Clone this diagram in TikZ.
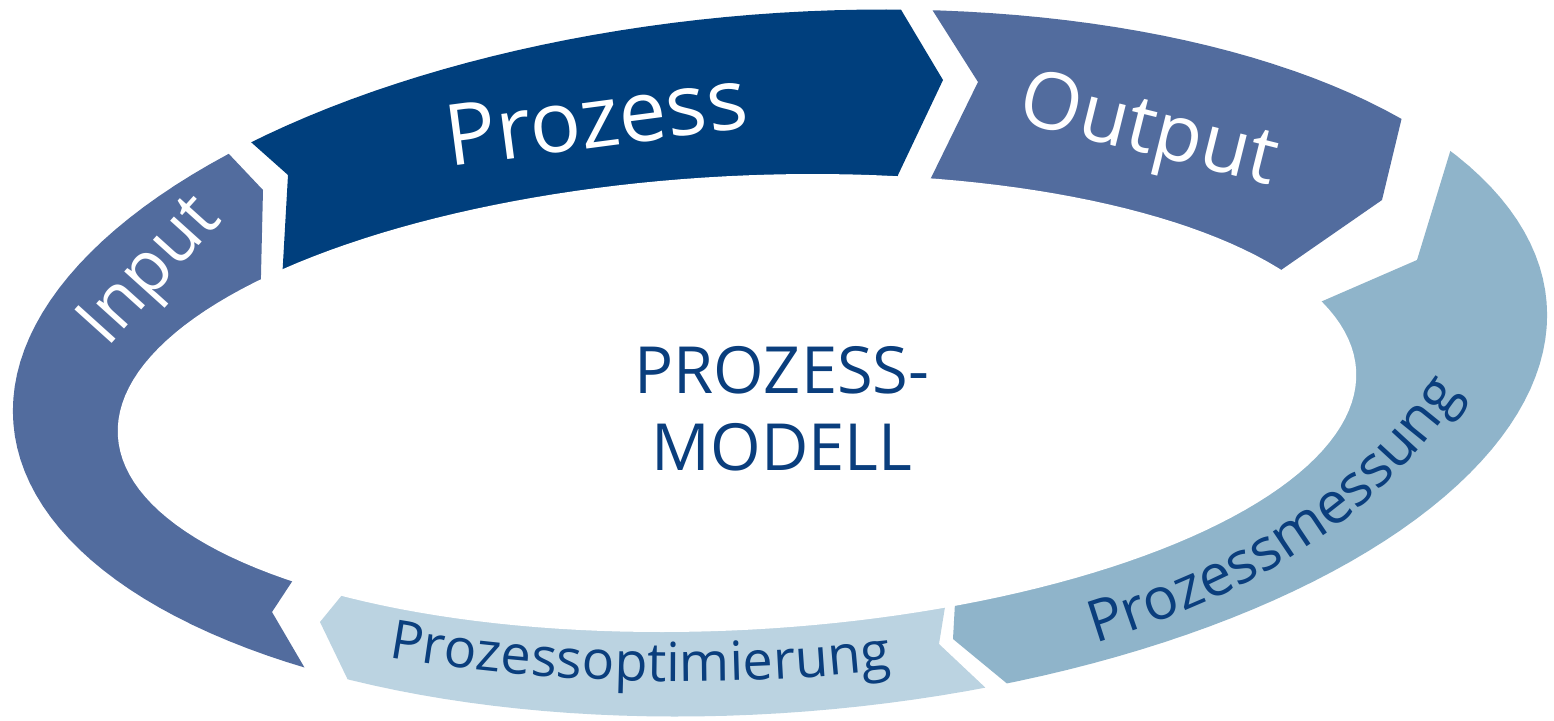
\documentclass[tikz,border=0pt]{standalone}
\usepackage{fontspec}
\setmainfont{Open Sans}
\usetikzlibrary{decorations.text}
\definecolor{cDark}{RGB}{0,63,125}
\definecolor{cMid}{RGB}{82,108,158}
\definecolor{cSteel}{RGB}{143,180,202}
\definecolor{cPale}{RGB}{187,211,225}
\definecolor{cText}{RGB}{10,62,125}
\begin{document}
\begin{tikzpicture}[x=0.5pt,y=-0.5pt,
  outer ell/.style={insert path={plot[domain=0:360, samples=181, variable=\t]
     ({780 + 769*cos(\t)*0.99692 + 349.4*sin(\t)*0.07846},
      {363 - 769*cos(\t)*0.07846 + 349.4*sin(\t)*0.99692}) -- cycle}},
  inner ell/.style={insert path={plot[domain=0:360, samples=181, variable=\t]
     ({737 + 620*cos(\t)*0.99863 + 227*sin(\t)*0.05234},
      {403 - 620*cos(\t)*0.05234 + 227*sin(\t)*0.99863}) -- cycle}},
  seglabel/.style={anchor=base, inner sep=0pt, text=white},
  titlelabel/.style={anchor=base, inner sep=0pt, text=cText, font=\fontsize{32.5}{32.5}\selectfont}]
\fill[white] (0,0) rectangle (1554,720);
\useasboundingbox (0,0) rectangle (1554,720);

% Input
\begin{scope}
\clip (760,390) -- (347,498) -- (297,574) -- (272,612) -- (303,665) -- (365,771)
  -- (-200,900) -- (-300,390) -- (-200,-100) -- (158,79) -- (228,153) -- (263,190)
  -- (261,275) -- (257,445) -- cycle;
\fill[cMid, outer ell];
\end{scope}
% Prozess
\begin{scope}
\clip (760,390) -- (273,439) -- (283,263) -- (288,175) -- (252,143) -- (180,79)
  -- (300,-150) -- (823,-121) -- (903,13) -- (943,80) -- (898,175) -- (853,365) -- cycle;
\fill[cDark, outer ell];
\end{scope}
% Output
\begin{scope}
\clip (760,390) -- (834,376) -- (930,180) -- (978,82) -- (933,11) -- (843,-131)
  -- (1100,-200) -- (1442,-49) -- (1402,117) -- (1382,200) -- (1281,270) -- (1079,410) -- cycle;
\fill[cMid, outer ell];
\end{scope}
% Prozessmessung
\begin{scope}
\clip (760,390) -- (1120,389) -- (1318,303) -- (1417,260) -- (1450,152) -- (1516,-64)
  -- (1800,0) -- (1850,500) -- (1500,900) -- (1124,780) -- (1010,686) -- (953,639)
  -- (955,603) -- (961,495) -- cycle;
\fill[cSteel, outer ell];
\end{scope}
% Prozessoptimierung
\begin{scope}
\clip (760,390) -- (957,533) -- (945,607) -- (939,644) -- (990,692) -- (1092,788)
  -- (700,900) -- (401,790) -- (347,678) -- (320,622) -- (347,589) -- (401,523) -- cycle;
\fill[cPale, outer ell];
\end{scope}
% hole
\fill[white, inner ell];

\node[seglabel, rotate=48, font=\fontsize{35}{35}\selectfont] (lInput) at (165,284) {Input};
\node[seglabel, rotate=7.5, font=\fontsize{42.5}{42.5}\selectfont] (lProzess) at (600,147) {Prozess};
\node[seglabel, rotate=-14, font=\fontsize{39.5}{39.5}\selectfont] (lOutput) at (1143,153) {Output};
\node[titlelabel] (title1) at (782,393) {PROZESS-};
\node[titlelabel] (title2) at (782,470) {MODELL};

\path[decoration={text along path, text align=center,
  text={|\fontsize{29}{29}\selectfont\color{cText}|Prozessmessung}}, decorate]
  (1078,648) .. controls (1250,598) and (1380,522) .. (1472,378);
\path[decoration={text along path, text align=center,
  text={|\fontsize{27}{27}\selectfont\color{cText}|Prozessoptimierung}}, decorate]
  (376,655) .. controls (540,686) and (740,689) .. (904,668);
\end{tikzpicture}
\end{document}
